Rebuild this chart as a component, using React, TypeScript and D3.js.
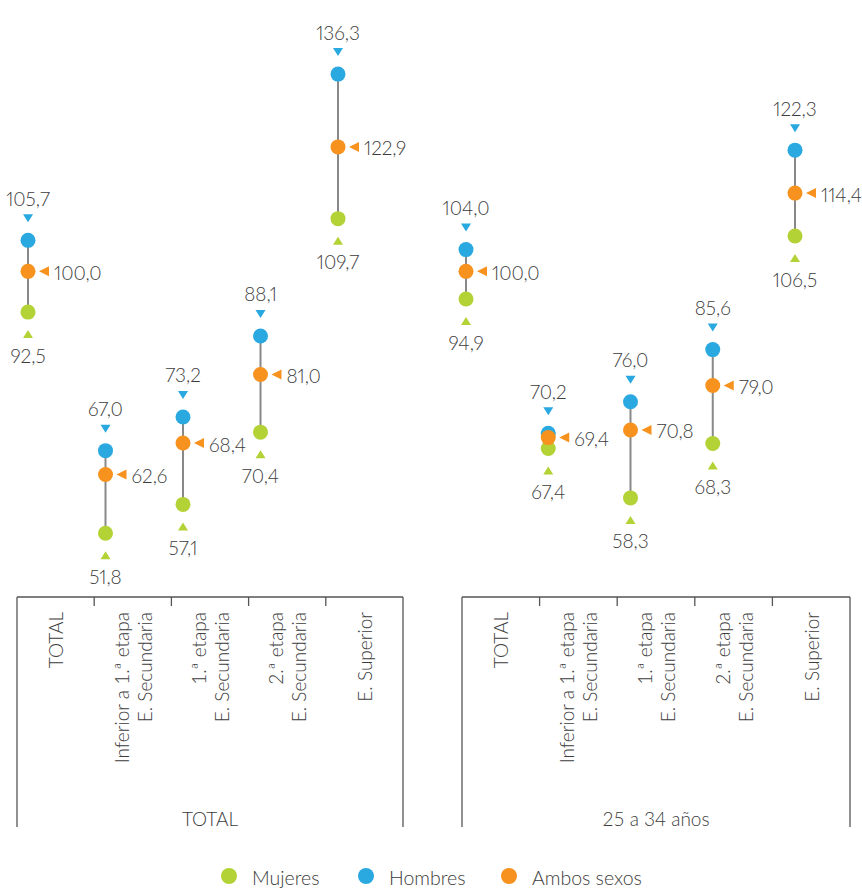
import React from "react";
import * as d3 from "d3";

const groupLabels = ["TOTAL", "25 a 34 años"];
const categoryLines: string[][] = [
  ["TOTAL"],
  ["Inferior a 1.ª etapa", "E. Secundaria"],
  ["1.ª etapa", "E. Secundaria"],
  ["2.ª etapa", "E. Secundaria"],
  ["E. Superior"],
];
const categoryKeys = ["total", "inf", "primera", "segunda", "superior"];

const hombresTotal = [105.7, 67.0, 73.2, 88.1, 136.3];
const ambosTotal = [100.0, 62.6, 68.4, 81.0, 122.9];
const mujeresTotal = [92.5, 51.8, 57.1, 70.4, 109.7];

const hombres2534 = [104.0, 70.2, 76.0, 85.6, 122.3];
const ambos2534 = [100.0, 69.4, 70.8, 79.0, 114.4];
const mujeres2534 = [94.9, 67.4, 58.3, 68.3, 106.5];

const legendLabels = ["Mujeres", "Hombres", "Ambos sexos"];

const C_H = "#29a9e0";
const C_A = "#f7921e";
const C_M = "#b3d235";
const TXT = "#3c3c3c";
const FONT = "Lato, 'Open Sans', sans-serif";

const fmt = d3
  .formatLocale({ decimal: ",", thousands: ".", grouping: [3], currency: ["", "€"] })
  .format(".1f");

export default function App() {
  const W = 862;
  const H = 888;
  const y = d3.scaleLinear().domain([50, 140]).range([543, 54]);

  const groups = [
    { label: groupLabels[0], h: hombresTotal, a: ambosTotal, m: mujeresTotal, dot: [28, 338], box: [17, 403] },
    { label: groupLabels[1], h: hombres2534, a: ambos2534, m: mujeres2534, dot: [466, 795], box: [462, 850] },
  ];

  const boxTop = 597;
  const boxBottom = 827;

  const triDown = (cx: number, cy: number) =>
    `M${cx - 5},${cy - 4}L${cx + 5},${cy - 4}L${cx},${cy + 4}Z`;
  const triUp = (cx: number, cy: number) =>
    `M${cx - 5},${cy + 4}L${cx + 5},${cy + 4}L${cx},${cy - 4}Z`;
  const triLeft = (cx: number, cy: number) =>
    `M${cx - 5},${cy}L${cx + 5},${cy - 5}L${cx + 5},${cy + 5}Z`;

  const numStyle: React.CSSProperties = { fontVariantNumeric: "proportional-nums", fontFeatureSettings: "'pnum' 1" };

  return (
    <svg
      width={W}
      height={H}
      style={{ position: "absolute", left: 0, top: 0, background: "#fff" }}
      fontFamily={FONT}
      fontWeight={300}
    >
      {groups.map((g, gi) => {
        const xDot = d3.scalePoint<string>().domain(categoryKeys).range(g.dot as [number, number]);
        const xBand = d3.scaleBand<string>().domain(categoryKeys).range(g.box as [number, number]);
        return (
          <g key={gi}>
            <line x1={g.box[0]} x2={g.box[1]} y1={boxTop} y2={boxTop} stroke="#555" strokeWidth={1.3} />
            <line x1={g.box[0]} x2={g.box[0]} y1={boxTop} y2={boxBottom} stroke="#555" strokeWidth={1.3} />
            <line x1={g.box[1]} x2={g.box[1]} y1={boxTop} y2={boxBottom} stroke="#555" strokeWidth={1.3} />
            {categoryKeys.slice(1).map((k) => (
              <line
                key={k}
                x1={xBand(k)!}
                x2={xBand(k)!}
                y1={boxTop}
                y2={boxTop + 9}
                stroke="#555"
                strokeWidth={1.3}
              />
            ))}
            {categoryKeys.map((k, i) => {
              const cx = xBand(k)! + xBand.bandwidth() / 2;
              const lines = categoryLines[i];
              const n = lines.length;
              return (
                <text
                  key={k}
                  transform={`translate(${cx},612) rotate(-90)`}
                  textAnchor="end"
                  fontSize={19}
                  fill={TXT}
                >
                  {lines.map((l, li) => (
                    <tspan key={li} x={0} y={(li - (n - 1) / 2) * 23} dominantBaseline="central">
                      {l}
                    </tspan>
                  ))}
                </text>
              );
            })}
            <text
              x={(g.box[0] + g.box[1]) / 2}
              y={818}
              textAnchor="middle"
              dominantBaseline="central"
              fontSize={19}
              fill={TXT}
            >
              {g.label}
            </text>
            {categoryKeys.map((k, i) => {
              const cx = xDot(k)!;
              const yh = y(g.h[i]);
              const ya = y(g.a[i]);
              const ym = y(g.m[i]);
              return (
                <g key={k}>
                  <line x1={cx} x2={cx} y1={yh} y2={ym} stroke="#888" strokeWidth={2} />
                  <circle cx={cx} cy={yh} r={7.5} fill={C_H} />
                  <circle cx={cx} cy={ym} r={7.5} fill={C_M} />
                  <circle cx={cx} cy={ya} r={7.5} fill={C_A} />
                  <path d={triDown(cx, yh - 22)} fill={C_H} />
                  <path d={triUp(cx, ym + 22)} fill={C_M} />
                  <path d={triLeft(cx + 16, ya)} fill={C_A} />
                  <text x={cx} y={yh - 42} textAnchor="middle" dominantBaseline="central" fontSize={19} fill={TXT} style={numStyle}>
                    {fmt(g.h[i])}
                  </text>
                  <text x={cx} y={ym + 43} textAnchor="middle" dominantBaseline="central" fontSize={19} fill={TXT} style={numStyle}>
                    {fmt(g.m[i])}
                  </text>
                  <text x={cx + 26} y={ya + 1} textAnchor="start" dominantBaseline="central" fontSize={19} fill={TXT} style={numStyle}>
                    {fmt(g.a[i])}
                  </text>
                </g>
              );
            })}
          </g>
        );
      })}
      {legendLabels.map((l, i) => {
        const lx = [229, 366, 509][i];
        const col = [C_M, C_H, C_A][i];
        return (
          <g key={l}>
            <circle cx={lx} cy={876} r={8} fill={col} />
            <text x={lx + 23} y={877} dominantBaseline="central" fontSize={19.5} fill={TXT}>
              {l}
            </text>
          </g>
        );
      })}
    </svg>
  );
}
